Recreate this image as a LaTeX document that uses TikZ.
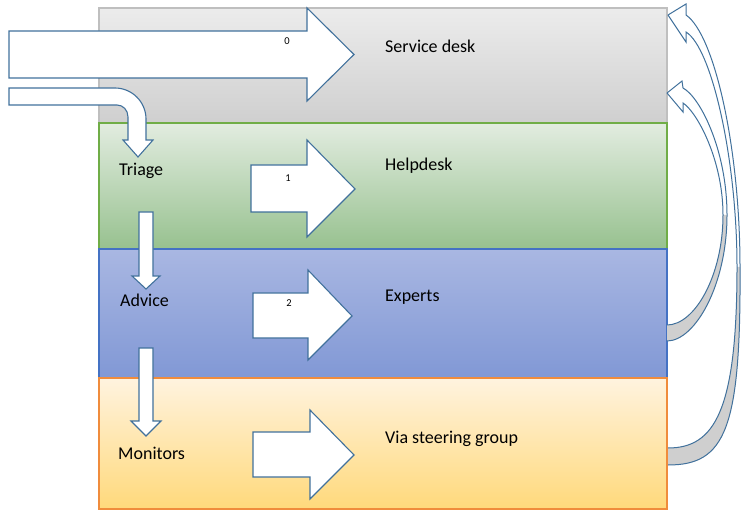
\documentclass[tikz,border=0pt]{standalone}
\usepackage{fontspec}
\setmainfont{Carlito}
\definecolor{gtop}{HTML}{ECECEC}
\definecolor{gbot}{HTML}{CFCFCF}
\definecolor{gline}{HTML}{BFBFBF}
\definecolor{ntop}{HTML}{E2ECE0}
\definecolor{nbot}{HTML}{97C18F}
\definecolor{nline}{HTML}{70AD47}
\definecolor{btop}{HTML}{A9B7E2}
\definecolor{bbot}{HTML}{8198D5}
\definecolor{bline}{HTML}{4472C4}
\definecolor{ytop}{HTML}{FFF3DF}
\definecolor{ybot}{HTML}{FFD97B}
\definecolor{yline}{HTML}{F08C3C}
\definecolor{aline}{HTML}{41719C}
\definecolor{afill}{HTML}{CFCFCF}
\tikzset{
  band/.style={line width=1.2pt},
  blockarrow/.style={draw=aline, fill=white, line width=1.1pt, line join=miter},
  curvedline/.style={draw=aline, line width=1pt, line join=miter},
  lbl/.style={font=\fontsize{18}{21}\selectfont, anchor=base west, inner sep=0pt},
  num/.style={font=\fontsize{10.5}{12}\selectfont, inner sep=0pt}
}
\begin{document}
\begin{tikzpicture}[x=1pt,y=-1pt]
\useasboundingbox (0,0) rectangle (741,510);
% bands
\shadedraw[band, draw=gline, top color=gtop, bottom color=gbot] (99,8) rectangle (667,123);
\shadedraw[band, draw=nline, top color=ntop, bottom color=nbot] (99,123) rectangle (667,249);
\shadedraw[band, draw=bline, top color=btop, bottom color=bbot] (99,249) rectangle (667,378);
\shadedraw[band, draw=yline, top color=ytop, bottom color=ybot] (99,378) rectangle (667,509);
% big arrow 0
\path[blockarrow] (9,31) -- (307,31) -- (307,8) -- (354,54.5) -- (307,101) -- (307,78) -- (9,78) -- cycle;
% bent arrow
\path[blockarrow] (9,88) -- (115,88) .. controls (132,88) and (146,102) .. (146,119) -- (146,140) -- (153,140) -- (138,157) -- (123,140) -- (128,140) -- (128,117) .. controls (128,110) and (123,105) .. (117,105) -- (9,105) -- cycle;
% down arrows
\path[blockarrow] (139,212) -- (153,212) -- (153,276) -- (160,276) -- (146,289) -- (132,276) -- (139,276) -- cycle;
\path[blockarrow] (139,348) -- (153,348) -- (153,421) -- (161,421) -- (146,436) -- (131,421) -- (139,421) -- cycle;
% right arrows
\path[blockarrow] (251,165) -- (307,165) -- (307,140) -- (355,189) -- (307,237) -- (307,212) -- (251,212) -- cycle;
\path[blockarrow] (253,293) -- (308,293) -- (308,270) -- (352,316) -- (308,360) -- (308,338) -- (253,338) -- cycle;
\path[blockarrow] (253,432) -- (310,432) -- (310,410) -- (354,455) -- (310,499) -- (310,477) -- (253,477) -- cycle;
% curved arrow A (experts -> service desk)
\fill[white] (667,93) -- (682,81) -- (683,88) .. controls (700,97) and (727,150) .. (727,215)
   -- (723,215) .. controls (723,160) and (697,112) .. (683,103) -- (683,112) -- cycle;
\fill[afill] (727,215) .. controls (727,285) and (695,341) .. (667,341) -- (667,325)
   .. controls (695,325) and (723,275) .. (723,215) -- cycle;
\path[curvedline] (667,93) -- (682,81) -- (683,88) .. controls (700,97) and (727,150) .. (727,215)
   .. controls (727,285) and (695,341) .. (667,341);
\path[curvedline] (667,325) .. controls (695,325) and (723,275) .. (723,215)
   .. controls (723,160) and (697,112) .. (683,103) -- (683,112) -- (667,93);
% curved arrow B (steering group -> service desk)
\fill[white] (668,15) -- (686,4) -- (686,15) .. controls (715,35) and (740,150) .. (740,267)
   -- (737,267) .. controls (737,160) and (712,48) .. (686,32) -- (686,42) -- cycle;
\fill[afill] (740,267) .. controls (741,430) and (725,465) .. (668,465) -- (668,448)
   .. controls (715,448) and (737,410) .. (737,267) -- cycle;
\path[curvedline] (668,15) -- (686,4) -- (686,15) .. controls (715,35) and (740,150) .. (740,267)
   .. controls (741,430) and (725,465) .. (668,465);
\path[curvedline] (668,448) .. controls (715,448) and (737,410) .. (737,267)
   .. controls (737,160) and (712,48) .. (686,32) -- (686,42) -- (668,15);
% labels
\node[num] (n0) at (287,41) {0};
\node[num] (n1) at (288,178) {1};
\node[num] (n2) at (289,303) {2};
\node[lbl] (sd) at (385,53) {Service desk};
\node[lbl] (hd) at (385,171) {Helpdesk};
\node[lbl] (ex) at (385,302) {Experts};
\node[lbl] (vs) at (385,443) {Via steering group};
\node[lbl] (tr) at (119,176) {Triage};
\node[lbl] (ad) at (120,307) {Advice};
\node[lbl] (mo) at (118,459) {Monitors};
\end{tikzpicture}
\end{document}
